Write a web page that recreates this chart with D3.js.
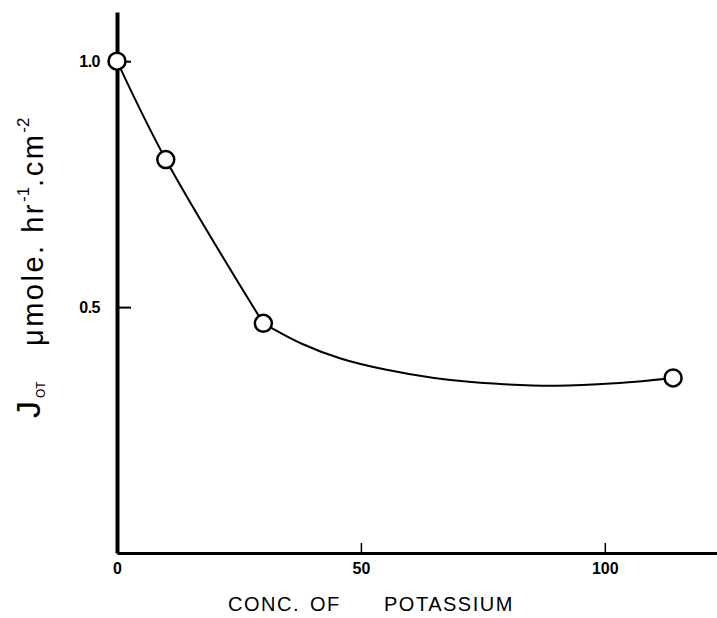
<!DOCTYPE html>
<html>
<head>
<meta charset="utf-8">
<script src="https://cdn.jsdelivr.net/npm/d3@7"></script>
<style>
  body { margin: 0; background: #fff; }
  text { font-family: Arial, "Liberation Sans", sans-serif; fill: #000; }
</style>
</head>
<body>
<script>
// measured points
var potassium = [ 0, 10, 30, 114 ];
var flux = [ 1.0, 0.80, 0.467, 0.356 ];

// hand drawn curve, in two pieces (it bends behind the 30 point)
var curveAX = [ 0, 10, 30 ];
var curveAY = [ 1.0, 0.80, 0.467 ];
var curveBX = [ 30, 38, 46, 55, 65, 78, 90, 102, 114 ];
var curveBY = [ 0.467, 0.425, 0.395, 0.373, 0.356, 0.344, 0.340, 0.345, 0.356 ];

var xTicks = [ 0, 50, 100 ];
var yTicks = [ 0.5, 1.0 ];

var svg = d3.select( "body" ).append( "svg" )
  .attr( 'width', 717 )
  .attr( 'height', 618 );

var x = d3.scaleLinear().domain( [ 0, 123 ] ).range( [ 117, 717 ] );
var y = d3.scaleLinear().domain( [ 0, 1.1 ] ).range( [ 553, 12 ] );

// x axis
var xAxis = svg.append( "g" )
  .attr( "transform", "translate(0," + y( 0 ) + ")" )
  .call( d3.axisBottom( x ).tickValues( xTicks ).tickFormat( d3.format( "d" ) )
    .tickSizeInner( -10 ).tickSizeOuter( 0 ).tickPadding( 10 ) );
xAxis.select( ".domain" ).attr( "stroke-width", 3 );
xAxis.selectAll( ".tick line" ).attr( "stroke-width", 1.5 );
xAxis.selectAll( "text" )
  .attr( "font-size", 16 )
  .attr( "font-weight", "bold" );

// y axis
var yAxis = svg.append( "g" )
  .attr( "transform", "translate(" + x( 0 ) + ",0)" )
  .call( d3.axisLeft( y ).tickValues( yTicks ).tickFormat( d3.format( ".1f" ) )
    .tickSizeInner( -14 ).tickSizeOuter( 0 ).tickPadding( 17 ) );
yAxis.select( ".domain" ).attr( "stroke-width", 4 );
yAxis.selectAll( ".tick line" ).attr( "stroke-width", 2 );
yAxis.selectAll( "text" )
  .attr( "font-size", 16 )
  .attr( "font-weight", "bold" )
  .attr( "letter-spacing", "-0.5" );

// curve
var line = d3.line()
  .x( function ( d ) { return x( d[ 0 ] ); } )
  .y( function ( d ) { return y( d[ 1 ] ); } )
  .curve( d3.curveCatmullRom.alpha( 0.5 ) );

svg.selectAll( "path.curve" )
  .data( [ d3.zip( curveAX, curveAY ), d3.zip( curveBX, curveBY ) ] )
  .enter().append( "path" )
  .attr( "class", "curve" )
  .attr( "d", line )
  .attr( "fill", "none" )
  .attr( "stroke", "#000" )
  .attr( "stroke-width", 2 );

// points
svg.selectAll( "circle" )
  .data( d3.zip( potassium, flux ) )
  .enter().append( "circle" )
  .attr( "cx", function ( d ) { return x( d[ 0 ] ); } )
  .attr( "cy", function ( d ) { return y( d[ 1 ] ); } )
  .attr( "r", 8.5 )
  .attr( "fill", "#fff" )
  .attr( "stroke", "#000" )
  .attr( "stroke-width", 2.5 );

// x label
var xl = svg.append( "text" )
  .attr( "y", 611 )
  .attr( "font-size", 20 )
  .attr( "letter-spacing", "1.5" );
xl.append( "tspan" ).attr( "x", 228 ).text( "CONC." );
xl.append( "tspan" ).attr( "x", 310 ).text( "OF" );
xl.append( "tspan" ).attr( "x", 384 ).text( "POTASSIUM" );

// y label, J with subscript
svg.append( "text" )
  .attr( "transform", "translate(40,418) rotate(-90)" )
  .attr( "font-size", 34 )
  .text( "J" );
svg.append( "text" )
  .attr( "transform", "translate(45,398) rotate(-90)" )
  .attr( "font-size", 12 )
  .text( "OT" );

var yl = svg.append( "text" )
  .attr( "transform", "translate(43,346) rotate(-90)" )
  .attr( "font-size", 29 )
  .attr( "letter-spacing", "2.5" );
yl.append( "tspan" ).text( "\u03bcmole. hr" );
yl.append( "tspan" ).attr( "font-size", 17 ).attr( "dy", -14 ).attr( "letter-spacing", "0" ).text( "-1" );
yl.append( "tspan" ).attr( "dy", 14 ).text( ".cm" );
yl.append( "tspan" ).attr( "font-size", 17 ).attr( "dy", -14 ).attr( "letter-spacing", "0" ).text( "-2" );
</script>
</body>
</html>
